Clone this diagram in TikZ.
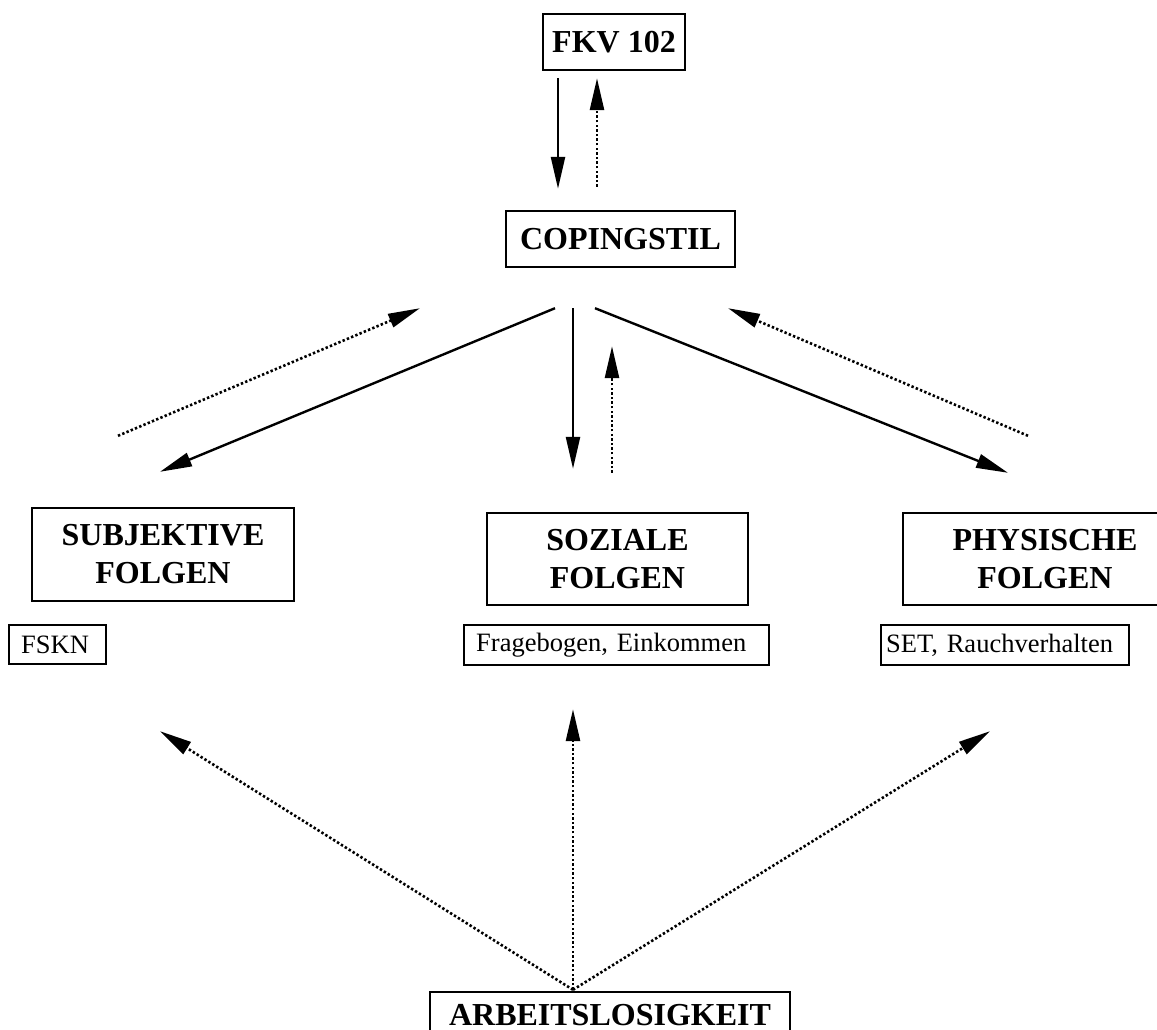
\documentclass[tikz,border=0pt]{standalone}
\usepackage{fontspec}
\setmainfont{Liberation Serif}
\usetikzlibrary{arrows.meta,calc}

\tikzset{
  bigbox/.style={draw, line width=2.4pt, inner sep=0pt, align=center,
    font=\fontsize{32}{38}\selectfont\bfseries},
  smallbox/.style={draw, line width=2.4pt, inner ysep=0pt, anchor=west, align=left,
    font=\fontsize{26.5}{30}\selectfont},
  solidarrow/.style={line width=2.4pt, -{Triangle[length=32pt,width=14pt]}},
  dotarrow/.style={solidarrow, line width=2.6pt, dash pattern=on 2.4pt off 2.2pt},
}

\begin{document}
\begin{tikzpicture}[x=1pt, y=-1pt]

  \clip (0,0) rectangle (1157,1030);
  \useasboundingbox (0,0) rectangle (1157,1030);

  % Kästen
  \node[bigbox, minimum width=142pt, minimum height=56pt] (fkv) at (614,42) {FKV 102};
  \node[bigbox, minimum width=229pt, minimum height=56pt] (coping) at (620.5,239) {COPINGSTIL};
  \node[bigbox, minimum width=262pt, minimum height=93pt] (subj) at (163,554.5) {SUBJEKTIVE\\FOLGEN};
  \node[bigbox, minimum width=261pt, minimum height=92pt] (soz) at (617.5,559) {SOZIALE\\FOLGEN};
  \node[bigbox, minimum width=284pt, minimum height=92pt] (phys) at (1045,559) {PHYSISCHE\\FOLGEN};
  \node[bigbox, minimum width=360pt, minimum height=46pt] (arbeit) at (610,1015) {ARBEITSLOSIGKEIT};

  % Messinstrumente
  \node[smallbox, inner xsep=12pt, text width=73pt, minimum height=39pt] (fskn) at (8,644.5) {FSKN};
  \node[smallbox, inner xsep=12pt, text width=281pt, minimum height=40pt] (frage) at (463,645) {Fragebogen, Einkommen};
  \node[smallbox, inner xsep=5pt, text width=238pt, minimum height=40pt] (set) at (880,645) {SET, Rauchverhalten};

  % FKV 102 <-> Copingstil
  \draw[solidarrow] ($(fkv.south)+(-56,7)$) -- ($(coping.north)+(-62.5,-21)$);
  \draw[dotarrow] ($(coping.north)+(-23.5,-23)$) -- ($(fkv.south)+(-17,7)$);

  % Copingstil <-> Folgen
  \draw[solidarrow] ($(coping.south)+(-65.5,40)$) -- ($(subj.north)+(-3,-35)$);
  \draw[dotarrow] ($(subj.north)+(-45,-71)$) -- ($(coping.south)+(-200.5,40)$);
  \draw[solidarrow] ($(coping.south)+(-47.5,40)$) -- ($(soz.north)+(-44.5,-43)$);
  \draw[dotarrow] ($(soz.north)+(-5.5,-39)$) -- ($(coping.south)+(-8.5,78)$);
  \draw[solidarrow] ($(coping.south)+(-25.5,40)$) -- ($(phys.north)+(-37,-39)$);
  \draw[dotarrow] ($(phys.north)+(-17,-76)$) -- ($(coping.south)+(107.5,40)$);

  % Arbeitslosigkeit -> Folgen
  \coordinate (a0) at ($(arbeit.north)+(-37,-1)$);
  \draw[dotarrow] (a0) -- ($(subj.south)+(-3,129)$);
  \draw[dotarrow] (a0) -- ($(soz.south)+(-44.5,103)$);
  \draw[dotarrow] (a0) -- ($(phys.south)+(-55,125)$);

\end{tikzpicture}
\end{document}
